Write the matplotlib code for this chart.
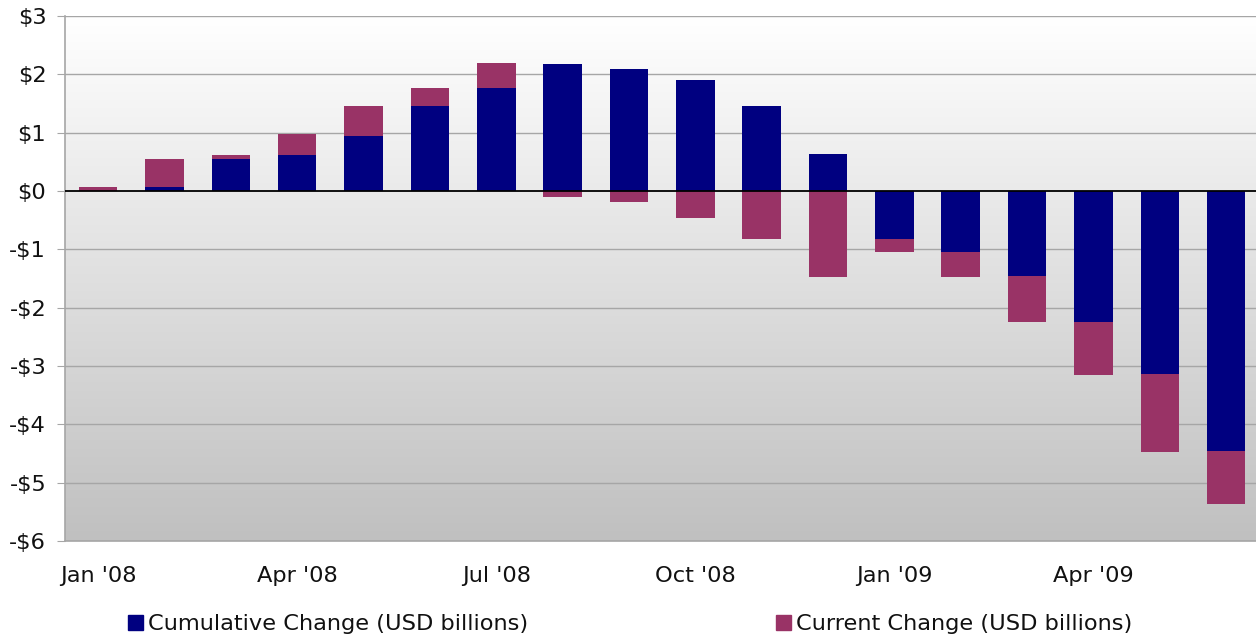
import matplotlib
matplotlib.use("Agg")
import matplotlib.pyplot as plt
import numpy as np
from matplotlib.patches import Patch

months = ["Jan '08", "Feb '08", "Mar '08", "Apr '08", "May '08", "Jun '08",
          "Jul '08", "Aug '08", "Sep '08", "Oct '08", "Nov '08", "Dec '08",
          "Jan '09", "Feb '09", "Mar '09", "Apr '09", "May '09", "Jun '09"]
cumulative = [0.00, 0.07, 0.55, 0.61, 0.95, 1.45, 1.76, 2.18, 2.10, 1.91, 1.46, 0.64,
              -0.82, -1.04, -1.45, -2.24, -3.14, -4.46]
current = [0.07, 0.48, 0.06, 0.36, 0.50, 0.31, 0.44, -0.10, -0.19, -0.46, -0.83, -1.47,
           -0.23, -0.43, -0.79, -0.91, -1.33, -0.91]
yticks = [3, 2, 1, 0, -1, -2, -3, -4, -5, -6]
ytick_labels = ["$3", "$2", "$1", "$0", "-$1", "-$2", "-$3", "-$4", "-$5", "-$6"]
label_every = 3
series_names = ["Cumulative Change (USD billions)", "Current Change (USD billions)"]

NAVY = "#000080"
MAROON = "#993366"
GRID = "#a6a6a6"
TXT = "#111111"

plt.rcParams['font.family'] = ['DejaVu Sans']
fig = plt.figure(figsize=(12.56, 6.34), dpi=100)
ax = fig.add_axes([65/1256, 1-541/634, 1-65/1256, (541-16)/634])

x = np.arange(len(months))
cum = np.array(cumulative)
cur = np.array(current)
bottom_cur = np.where(np.sign(cum) == np.sign(cur), cum, 0.0)

ax.set_xlim(-0.5, 17.45)
ax.set_ylim(-6, 3)

# gradient background
t = np.linspace(0, 1, 256).reshape(-1, 1, 1)
top_c = np.array([1.0, 1.0, 1.0]).reshape(1, 1, 3)
bot_c = (np.array([0xc0, 0xc0, 0xc0]) / 255.0).reshape(1, 1, 3)
cols = top_c * (1 - t) + bot_c * t
ax.imshow(cols, extent=[-0.5, 17.45, -6, 3], aspect='auto', origin='upper', zorder=0)

for yv in yticks:
    if yv != 0:
        ax.axhline(yv, color=GRID, lw=1.0, zorder=1)

w = 0.58
ax.bar(x, cum, width=w, color=NAVY, zorder=2)
ax.bar(x, cur, width=w, bottom=bottom_cur, color=MAROON, zorder=2)
ax.axhline(0, color="black", lw=1.3, zorder=3)

ax.set_yticks(yticks)
ax.set_yticklabels(ytick_labels)
ax.set_xticks(x[::label_every])
ax.set_xticklabels([months[i] for i in range(0, len(months), label_every)])

for s in ["top", "right"]:
    ax.spines[s].set_visible(False)
for s in ["left", "bottom"]:
    ax.spines[s].set_color(GRID)
    ax.spines[s].set_linewidth(1.2)

fs = 16.2
ax.tick_params(axis='y', length=6, color=GRID, labelsize=fs, pad=7.5, labelcolor=TXT)
ax.tick_params(axis='x', length=0, labelsize=fs, pad=18, labelcolor=TXT)

l1 = fig.legend(handles=[Patch(color=NAVY)], labels=[series_names[0]], loc='center left',
                bbox_to_anchor=(128/1256, 1-624/634), frameon=False, fontsize=fs,
                handlelength=0.66, handleheight=0.66, handletextpad=0.22,
                borderpad=0, borderaxespad=0)
l2 = fig.legend(handles=[Patch(color=MAROON)], labels=[series_names[1]], loc='center left',
                bbox_to_anchor=(776/1256, 1-624/634), frameon=False, fontsize=fs,
                handlelength=0.66, handleheight=0.66, handletextpad=0.22,
                borderpad=0, borderaxespad=0)
for lg in (l1, l2):
    for tx in lg.get_texts():
        tx.set_color(TXT)

fig.savefig("out.png", dpi=100)
